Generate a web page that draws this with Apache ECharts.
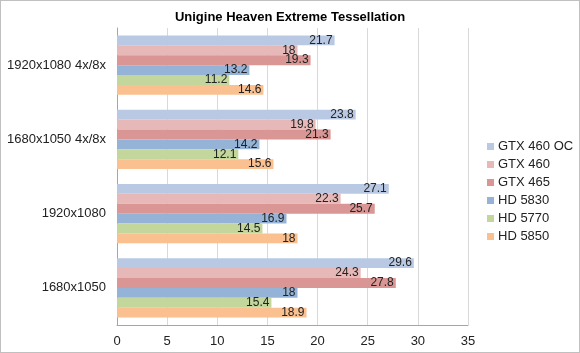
<!DOCTYPE html>
<html>
<head>
<meta charset="utf-8">
<script src="https://cdn.jsdelivr.net/npm/echarts@6/dist/echarts.min.js"></script>
<style>
  html, body { margin: 0; padding: 0; background: #fff; }
  #chart { width: 578px; height: 351px; border: 1px solid #c0c0c0; }
</style>
</head>
<body>
<div id="chart"></div>
<script>
// categories bottom to top (ECharts category y axis starts at the bottom)
const categories = ['1680x1050', '1920x1080', '1680x1050 4x/8x', '1920x1080 4x/8x']

const gtx460oc = [29.6, 27.1, 23.8, 21.7]
const gtx460 = [24.3, 22.3, 19.8, 18]
const gtx465 = [27.8, 25.7, 21.3, 19.3]
const hd5830 = [18, 16.9, 14.2, 13.2]
const hd5770 = [15.4, 14.5, 12.1, 11.2]
const hd5850 = [18.9, 18, 15.6, 14.6]

const xTicks = [0, 5, 10, 15, 20, 25, 30, 35]

// series[0] sits at the top of each band here
const seriesDefs = [
  { name: 'GTX 460 OC', data: gtx460oc, color: '#b9c9e3' },
  { name: 'GTX 460', data: gtx460, color: '#e6b9b8' },
  { name: 'GTX 465', data: gtx465, color: '#d99694' },
  { name: 'HD 5830', data: hd5830, color: '#95b3d7' },
  { name: 'HD 5770', data: hd5770, color: '#c3d69b' },
  { name: 'HD 5850', data: hd5850, color: '#fac090' }
]

const chart = echarts.init(document.getElementById('chart'))

chart.setOption({
  animation: false,
  textStyle: { fontFamily: 'Liberation Sans, Arial, sans-serif' },
  title: {
    text: 'Unigine Heaven Extreme Tessellation',
    left: 'center',
    top: 5,
    textStyle: { fontSize: 13, fontWeight: 'bold', color: '#000' }
  },
  legend: {
    data: seriesDefs.map(s => s.name),
    orient: 'vertical',
    left: 481,
    top: 134,
    itemWidth: 7,
    itemHeight: 7,
    itemGap: 5,
    icon: 'rect',
    textStyle: { fontSize: 13, color: '#222', padding: [0, 0, 0, -1] }
  },
  grid: { left: 116, right: 111, top: 27, bottom: 27 },
  xAxis: {
    type: 'value',
    min: xTicks[0],
    max: xTicks[xTicks.length - 1],
    interval: 5,
    axisLine: { show: true, lineStyle: { color: '#a6a6a6' } },
    axisTick: { show: false },
    axisLabel: { color: '#222', fontSize: 13, margin: 10 },
    splitLine: { lineStyle: { color: '#d9d9d9' } }
  },
  yAxis: {
    type: 'category',
    data: categories,
    axisLine: { show: true, lineStyle: { color: '#a6a6a6' } },
    axisTick: { show: false },
    axisLabel: { color: '#222', fontSize: 13, margin: 11 }
  },
  series: seriesDefs.map(s => ({
    name: s.name,
    type: 'bar',
    data: s.data,
    barGap: '0%',
    barCategoryGap: '20%',
    itemStyle: { color: s.color },
    label: {
      show: true,
      position: 'insideRight',
      distance: 2,
      color: '#222',
      fontSize: 12
    }
  }))
})
</script>
</body>
</html>
